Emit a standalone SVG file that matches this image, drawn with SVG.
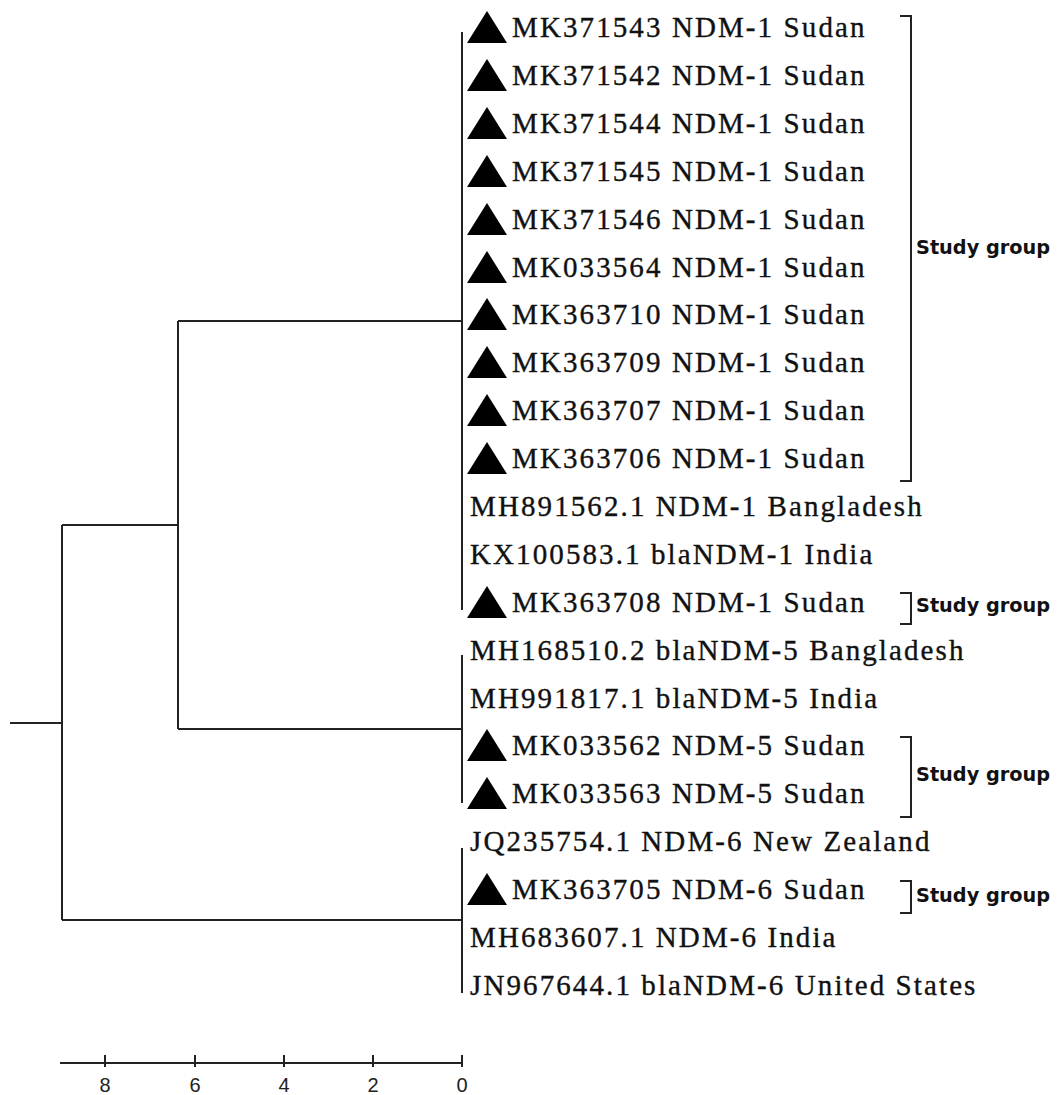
<svg xmlns="http://www.w3.org/2000/svg" width="1058" height="1095" viewBox="0 0 1058 1095">
<style>
.ln{stroke:#222;stroke-width:2;fill:none}
.tx{font-family:"Liberation Serif","Times New Roman",serif;font-size:29px;letter-spacing:2.1px;fill:#111;stroke:#111;stroke-width:0.35}
.sg{font-family:"DejaVu Sans",Verdana,sans-serif;font-weight:bold;font-size:19.3px;fill:#111}
.sc{font-family:"Liberation Sans",Arial,sans-serif;font-size:20px;fill:#222;text-anchor:middle}
.tri{fill:#000}
</style>
<defs>
<polygon id="tri" class="tri" points="487,-26 507,6 467,6"/>
</defs>
<rect width="1058" height="1095" fill="#fff"/>
<g id="connectors">
<path class="ln" d="M10,723 H62"/>
<path class="ln" d="M62,525 V920"/>
<path class="ln" d="M62,525 H178"/>
<path class="ln" d="M178,321 V729"/>
<path class="ln" d="M178,321 H462"/>
<path class="ln" d="M178,729 H462"/>
<path class="ln" d="M62,920 H462"/>
<path class="ln" d="M462,32 V610"/>
<path class="ln" d="M462,655 V803"/>
<path class="ln" d="M462,848 V993"/>
</g>
<g id="brackets">
<path class="ln" d="M900,16 H911 V481 H900"/>
<path class="ln" d="M900,593 H911 V624 H900"/>
<path class="ln" d="M900,737 H911 V817 H900"/>
<path class="ln" d="M900,881 H911 V913 H900"/>
</g>
<g id="n0"><use href="#tri" y="37"/><text class="tx" x="512" y="37">MK371543 NDM-1 Sudan</text></g>
<g id="n1"><use href="#tri" y="85"/><text class="tx" x="512" y="85">MK371542 NDM-1 Sudan</text></g>
<g id="n2"><use href="#tri" y="133"/><text class="tx" x="512" y="133">MK371544 NDM-1 Sudan</text></g>
<g id="n3"><use href="#tri" y="181"/><text class="tx" x="512" y="181">MK371545 NDM-1 Sudan</text></g>
<g id="n4"><use href="#tri" y="229"/><text class="tx" x="512" y="229">MK371546 NDM-1 Sudan</text></g>
<g id="n5"><use href="#tri" y="277"/><text class="tx" x="512" y="277">MK033564 NDM-1 Sudan</text></g>
<g id="n6"><use href="#tri" y="324"/><text class="tx" x="512" y="324">MK363710 NDM-1 Sudan</text></g>
<g id="n7"><use href="#tri" y="372"/><text class="tx" x="512" y="372">MK363709 NDM-1 Sudan</text></g>
<g id="n8"><use href="#tri" y="420"/><text class="tx" x="512" y="420">MK363707 NDM-1 Sudan</text></g>
<g id="n9"><use href="#tri" y="468"/><text class="tx" x="512" y="468">MK363706 NDM-1 Sudan</text></g>
<g id="n10"><text class="tx" x="470" y="516">MH891562.1 NDM-1 Bangladesh</text></g>
<g id="n11"><text class="tx" x="470" y="564">KX100583.1 blaNDM-1 India</text></g>
<g id="n12"><use href="#tri" y="612"/><text class="tx" x="512" y="612">MK363708 NDM-1 Sudan</text></g>
<g id="n13"><text class="tx" x="470" y="660">MH168510.2 blaNDM-5 Bangladesh</text></g>
<g id="n14"><text class="tx" x="470" y="708">MH991817.1 blaNDM-5 India</text></g>
<g id="n15"><use href="#tri" y="755"/><text class="tx" x="512" y="755">MK033562 NDM-5 Sudan</text></g>
<g id="n16"><use href="#tri" y="803"/><text class="tx" x="512" y="803">MK033563 NDM-5 Sudan</text></g>
<g id="n17"><text class="tx" x="470" y="851">JQ235754.1 NDM-6 New Zealand</text></g>
<g id="n18"><use href="#tri" y="899"/><text class="tx" x="512" y="899">MK363705 NDM-6 Sudan</text></g>
<g id="n19"><text class="tx" x="470" y="947">MH683607.1 NDM-6 India</text></g>
<g id="n20"><text class="tx" x="470" y="995">JN967644.1 blaNDM-6 United States</text></g>
<g id="labels">
<text class="sg" x="916" y="254">Study group</text>
<text class="sg" x="916" y="612">Study group</text>
<text class="sg" x="916" y="781">Study group</text>
<text class="sg" x="916" y="902">Study group</text>
</g>
<g id="scale">
<path class="ln" d="M60,1063 H462"/>
<path class="ln" d="M105,1055 V1067 M195,1055 V1067 M284,1055 V1067 M373,1055 V1067 M462,1055 V1067"/>
<text class="sc" x="105" y="1092">8</text>
<text class="sc" x="195" y="1092">6</text>
<text class="sc" x="284" y="1092">4</text>
<text class="sc" x="373" y="1092">2</text>
<text class="sc" x="462" y="1092">0</text>
</g>
</svg>
